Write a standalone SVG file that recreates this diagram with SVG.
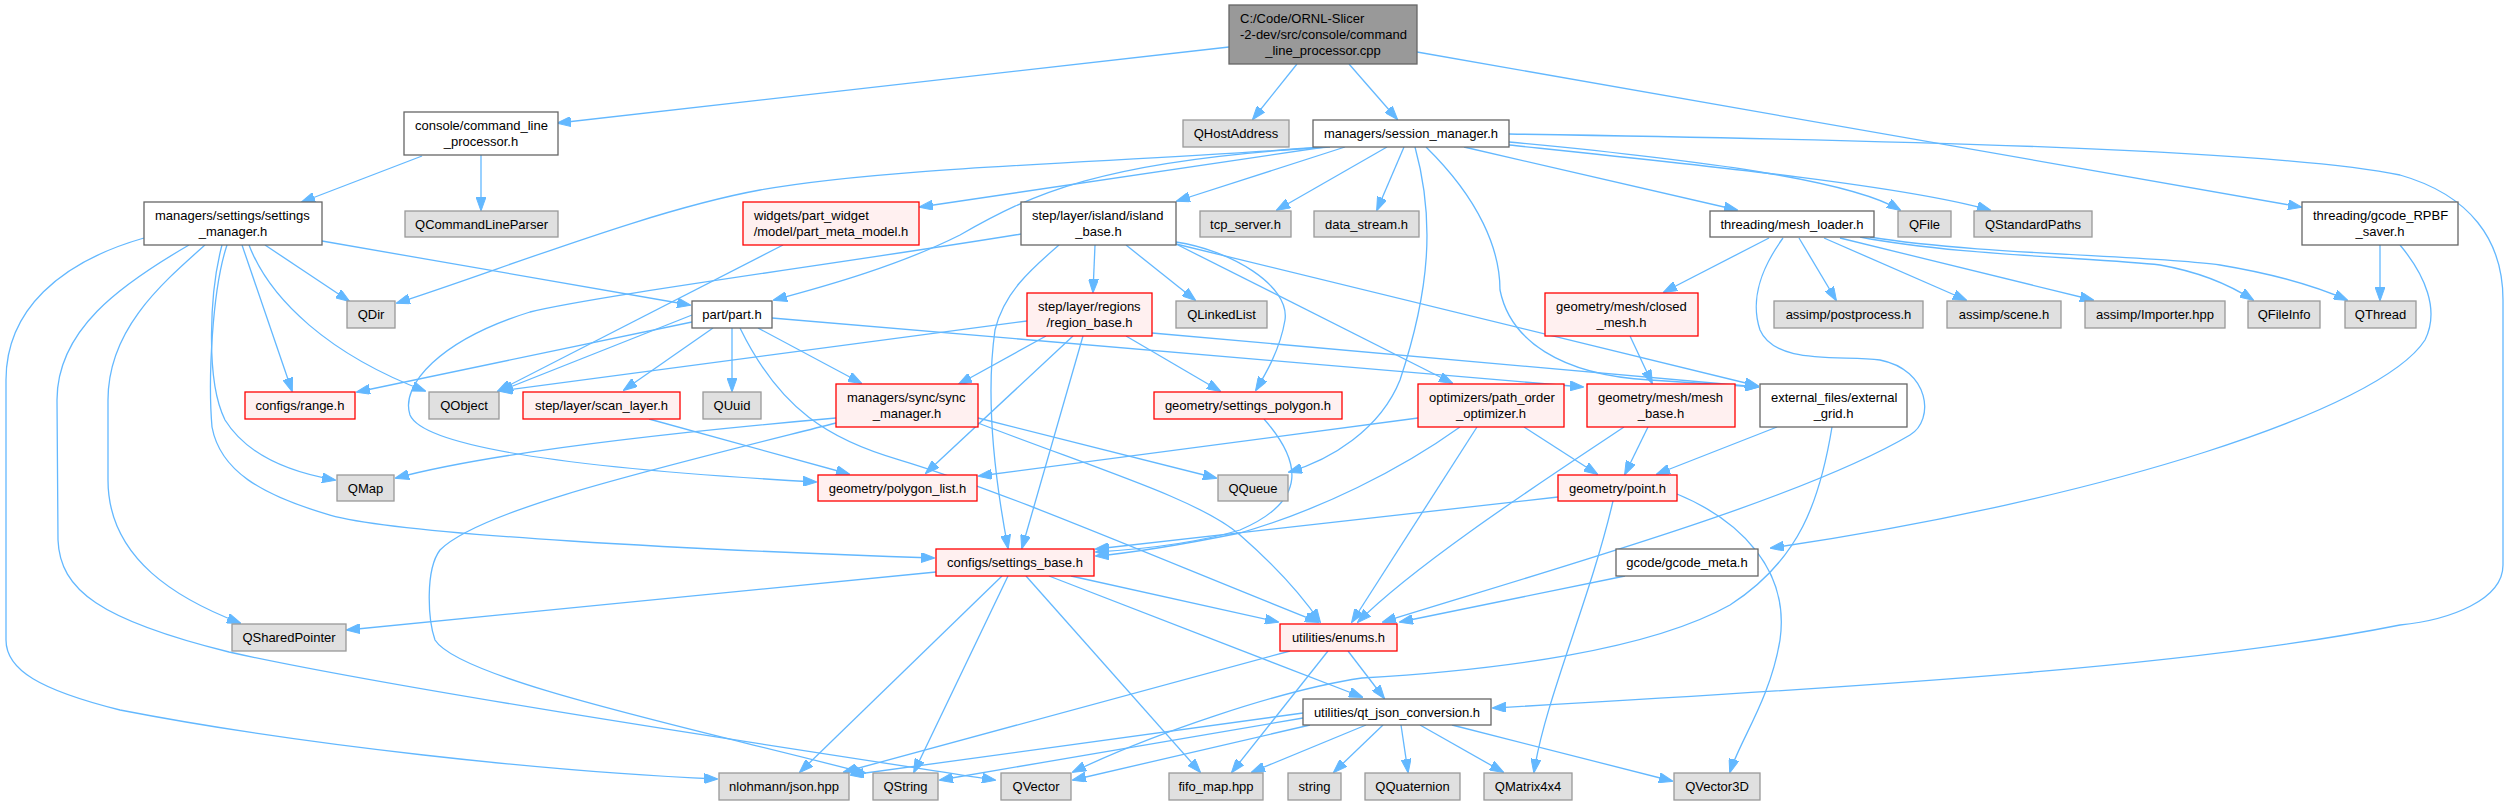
<svg xmlns="http://www.w3.org/2000/svg" width="2509" height="805" viewBox="0 0 2509 805">
<style>
.e{fill:none;stroke:#63b8ff;stroke-width:1.3;marker-end:url(#a)}
rect{stroke-width:1.3}
.w{fill:#ffffff;stroke:#666666}
.r{fill:#fff0f0;stroke:#ff0000}
.g{fill:#e0e0e0;stroke:#999999}
.m{fill:#999999;stroke:#666666}
text{font-family:"Liberation Sans",Arial,sans-serif;font-size:13px;fill:#000000}
.c{text-anchor:middle}
</style>
<defs>
<marker id="a" markerWidth="14" markerHeight="10" refX="13" refY="5" orient="auto" markerUnits="userSpaceOnUse"><path d="M0,0 L14,5 L0,10 z" fill="#63b8ff" stroke="#63b8ff"/></marker>
</defs>
<rect width="2509" height="805" fill="#ffffff"/>
<g id="edges">
<path class="e" d="M1229,47 L558,123"/>
<path class="e" d="M1297,64 L1253,119"/>
<path class="e" d="M1349,64 L1397,119"/>
<path class="e" d="M1417,52 L2301,207"/>
<path class="e" d="M481,155 L481,210"/>
<path class="e" d="M422,156 L302,202"/>
<path class="e" d="M322,241 L690,305"/>
<path class="e" d="M265,245 L349,301"/>
<path class="e" d="M249,245 C270,300 330,355 425,391"/>
<path class="e" d="M242,245 L292,391"/>
<path class="e" d="M222,245 C210,290 205,380 225,420 C250,460 300,474 335,480"/>
<path class="e" d="M227,245 C212,290 208,380 212,427 C220,470 260,495 330,515 C400,535 700,550 934,558"/>
<path class="e" d="M205,245 C160,285 108,330 108,400 L108,480 C108,560 180,600 240,623"/>
<path class="e" d="M144,238 C60,262 6,310 6,380 L6,640 C6,670 40,690 120,710 C300,745 550,772 717,779"/>
<path class="e" d="M189,245 C120,285 57,330 57,400 L58,540 C60,590 100,620 229,652 C400,690 800,750 995,780"/>
<path class="e" d="M1325,147 L920,207"/>
<path class="e" d="M1345,147 L1177,201"/>
<path class="e" d="M1387,147 L1277,210"/>
<path class="e" d="M1404,147 L1377,210"/>
<path class="e" d="M1464,147 L1737,210"/>
<path class="e" d="M1509,142 C1700,160 1850,180 1900,210"/>
<path class="e" d="M1509,145 C1700,165 1900,185 1990,210"/>
<path class="e" d="M1320,147 C1150,162 900,165 760,190 C650,210 500,270 397,303"/>
<path class="e" d="M1330,147 C1100,160 1030,195 960,235 C900,265 830,285 774,300"/>
<path class="e" d="M1415,147 C1435,220 1430,290 1400,380 C1380,430 1330,460 1289,472"/>
<path class="e" d="M1426,147 C1480,200 1500,250 1500,290 C1510,340 1560,375 1650,380 C1700,383 1730,385 1758,387"/>
<path class="e" d="M1509,134 C1900,140 2280,150 2400,175 C2470,195 2503,240 2503,300 L2503,565 C2503,600 2450,620 2400,625 C2200,665 1900,685 1493,708"/>
<path class="e" d="M1095,245 L1093,292"/>
<path class="e" d="M1126,245 L1195,300"/>
<path class="e" d="M1059,245 C1030,270 1004,293 995,330 C985,400 995,480 1008,548"/>
<path class="e" d="M1021,234 C850,262 600,295 530,312 C440,340 400,385 410,415 C425,450 600,470 816,482"/>
<path class="e" d="M1176,242 C1230,250 1290,285 1285,320 C1280,350 1265,375 1256,390"/>
<path class="e" d="M1176,244 L1452,383"/>
<path class="e" d="M1176,244 L1758,386"/>
<path class="e" d="M692,322 L357,392"/>
<path class="e" d="M692,315 L500,391"/>
<path class="e" d="M713,328 L624,390"/>
<path class="e" d="M732,328 L732,391"/>
<path class="e" d="M758,328 L861,383"/>
<path class="e" d="M740,328 C780,410 830,440 900,460 C1000,490 1150,555 1318,622"/>
<path class="e" d="M772,318 L1583,387"/>
<path class="e" d="M783,245 L498,391"/>
<path class="e" d="M1027,321 L500,391"/>
<path class="e" d="M1046,336 L959,384"/>
<path class="e" d="M1073,336 L926,473"/>
<path class="e" d="M1083,336 L1022,548"/>
<path class="e" d="M1126,336 L1220,391"/>
<path class="e" d="M1152,333 L1758,387"/>
<path class="e" d="M649,419 L849,474"/>
<path class="e" d="M836,418 C700,430 500,450 396,478"/>
<path class="e" d="M836,423 C650,470 480,510 440,550 C425,570 428,620 435,640 C460,680 700,730 865,773"/>
<path class="e" d="M978,418 L1216,478"/>
<path class="e" d="M978,423 C1100,470 1200,500 1240,535 C1280,570 1305,600 1320,622"/>
<path class="e" d="M1264,419 C1300,460 1310,500 1240,530 C1190,545 1130,550 1096,552"/>
<path class="e" d="M1418,418 L979,476"/>
<path class="e" d="M1460,427 C1400,470 1320,510 1240,533 C1180,545 1130,553 1096,556"/>
<path class="e" d="M1477,427 L1352,622"/>
<path class="e" d="M1524,427 L1597,474"/>
<path class="e" d="M1648,427 L1625,474"/>
<path class="e" d="M1624,427 C1560,470 1420,560 1358,622"/>
<path class="e" d="M1630,336 L1652,383"/>
<path class="e" d="M1777,427 L1657,474"/>
<path class="e" d="M1832,427 C1820,500 1800,560 1730,605 C1650,650 1500,670 1362,678 C1280,690 1150,735 1073,772"/>
<path class="e" d="M1558,497 L1096,549"/>
<path class="e" d="M1613,501 C1590,600 1545,700 1534,772"/>
<path class="e" d="M1677,494 C1740,520 1790,570 1780,640 C1770,700 1740,740 1730,772"/>
<path class="e" d="M936,572 L347,630"/>
<path class="e" d="M1002,576 L800,772"/>
<path class="e" d="M1008,576 L914,772"/>
<path class="e" d="M1026,576 L1200,772"/>
<path class="e" d="M1049,576 L1362,697"/>
<path class="e" d="M1071,576 L1278,622"/>
<path class="e" d="M1625,576 L1400,622"/>
<path class="e" d="M1783,238 C1760,270 1750,300 1760,330 C1775,365 1840,355 1880,360 C1930,370 1935,420 1910,435 C1800,500 1550,570 1383,622"/>
<path class="e" d="M1769,238 L1664,292"/>
<path class="e" d="M1799,238 L1836,300"/>
<path class="e" d="M1824,238 L1966,300"/>
<path class="e" d="M1840,238 L2093,300"/>
<path class="e" d="M1860,237 C1950,255 2100,258 2160,265 C2200,272 2230,285 2253,300"/>
<path class="e" d="M1870,237 C1980,255 2150,255 2220,265 C2280,275 2320,288 2347,300"/>
<path class="e" d="M2380,245 L2380,300"/>
<path class="e" d="M2400,245 C2425,275 2440,310 2425,340 C2380,410 2100,500 1771,548"/>
<path class="e" d="M1303,713 L851,775"/>
<path class="e" d="M1303,718 L940,780"/>
<path class="e" d="M1310,725 L1073,780"/>
<path class="e" d="M1366,725 L1252,772"/>
<path class="e" d="M1383,725 L1334,772"/>
<path class="e" d="M1401,725 L1408,772"/>
<path class="e" d="M1420,725 L1503,772"/>
<path class="e" d="M1452,725 L1672,781"/>
<path class="e" d="M1348,651 L1384,698"/>
<path class="e" d="M1328,651 L1232,772"/>
<path class="e" d="M1290,651 L844,772"/>
</g>
<g id="n0"><rect class="m" x="1229" y="5" width="188" height="59"/><text x="1240" y="22.5">C:/Code/ORNL-Slicer</text><text x="1240" y="38.5">-2-dev/src/console/command</text><text class="c" x="1323" y="55">_line_processor.cpp</text></g>
<g id="n1"><rect class="w" x="404" y="112" width="154" height="43"/><text x="415" y="130">console/command_line</text><text class="c" x="481" y="146">_processor.h</text></g>
<g id="n2"><rect class="w" x="144" y="202" width="178" height="43"/><text x="155" y="220">managers/settings/settings</text><text class="c" x="233" y="236">_manager.h</text></g>
<g id="n3"><rect class="g" x="405" y="211" width="153" height="26"/><text class="c" x="481.5" y="228.5">QCommandLineParser</text></g>
<g id="n4"><rect class="g" x="1183" y="120" width="106" height="27"/><text class="c" x="1236" y="138">QHostAddress</text></g>
<g id="n5"><rect class="w" x="1313" y="120" width="196" height="27"/><text class="c" x="1411" y="138">managers/session_manager.h</text></g>
<g id="n6"><rect class="r" x="743" y="202" width="176" height="43"/><text x="754" y="220">widgets/part_widget</text><text class="c" x="831" y="236">/model/part_meta_model.h</text></g>
<g id="n7"><rect class="w" x="1021" y="202" width="155" height="43"/><text x="1032" y="220">step/layer/island/island</text><text class="c" x="1098.5" y="236">_base.h</text></g>
<g id="n8"><rect class="g" x="1200" y="211" width="91" height="26"/><text class="c" x="1245.5" y="228.5">tcp_server.h</text></g>
<g id="n9"><rect class="g" x="1314" y="211" width="105" height="26"/><text class="c" x="1366.5" y="228.5">data_stream.h</text></g>
<g id="n10"><rect class="w" x="1710" y="211" width="164" height="26"/><text class="c" x="1792" y="228.5">threading/mesh_loader.h</text></g>
<g id="n11"><rect class="g" x="1898" y="211" width="53" height="26"/><text class="c" x="1924.5" y="228.5">QFile</text></g>
<g id="n12"><rect class="g" x="1974" y="211" width="118" height="26"/><text class="c" x="2033" y="228.5">QStandardPaths</text></g>
<g id="n13"><rect class="w" x="2302" y="202" width="156" height="43"/><text x="2313" y="220">threading/gcode_RPBF</text><text class="c" x="2380" y="236">_saver.h</text></g>
<g id="n14"><rect class="g" x="347" y="301" width="48" height="27"/><text class="c" x="371" y="319">QDir</text></g>
<g id="n15"><rect class="w" x="692" y="301" width="80" height="27"/><text class="c" x="732" y="319">part/part.h</text></g>
<g id="n16"><rect class="r" x="1027" y="293" width="125" height="43"/><text x="1038" y="311">step/layer/regions</text><text class="c" x="1089.5" y="327">/region_base.h</text></g>
<g id="n17"><rect class="g" x="1176" y="301" width="91" height="27"/><text class="c" x="1221.5" y="319">QLinkedList</text></g>
<g id="n18"><rect class="r" x="1545" y="293" width="153" height="43"/><text x="1556" y="311">geometry/mesh/closed</text><text class="c" x="1621.5" y="327">_mesh.h</text></g>
<g id="n19"><rect class="g" x="1774" y="301" width="149" height="27"/><text class="c" x="1848.5" y="319">assimp/postprocess.h</text></g>
<g id="n20"><rect class="g" x="1947" y="301" width="114" height="27"/><text class="c" x="2004" y="319">assimp/scene.h</text></g>
<g id="n21"><rect class="g" x="2085" y="301" width="140" height="27"/><text class="c" x="2155" y="319">assimp/Importer.hpp</text></g>
<g id="n22"><rect class="g" x="2248" y="301" width="72" height="27"/><text class="c" x="2284" y="319">QFileInfo</text></g>
<g id="n23"><rect class="g" x="2345" y="301" width="71" height="27"/><text class="c" x="2380.5" y="319">QThread</text></g>
<g id="n24"><rect class="r" x="245" y="392" width="110" height="27"/><text class="c" x="300" y="410">configs/range.h</text></g>
<g id="n25"><rect class="g" x="429" y="392" width="70" height="27"/><text class="c" x="464" y="410">QObject</text></g>
<g id="n26"><rect class="r" x="523" y="392" width="157" height="27"/><text class="c" x="601.5" y="410">step/layer/scan_layer.h</text></g>
<g id="n27"><rect class="g" x="703" y="392" width="58" height="27"/><text class="c" x="732" y="410">QUuid</text></g>
<g id="n28"><rect class="r" x="836" y="384" width="142" height="43"/><text x="847" y="402">managers/sync/sync</text><text class="c" x="907" y="418">_manager.h</text></g>
<g id="n29"><rect class="r" x="1154" y="392" width="188" height="27"/><text class="c" x="1248" y="410">geometry/settings_polygon.h</text></g>
<g id="n30"><rect class="r" x="1418" y="384" width="146" height="43"/><text x="1429" y="402">optimizers/path_order</text><text class="c" x="1491" y="418">_optimizer.h</text></g>
<g id="n31"><rect class="r" x="1587" y="384" width="148" height="43"/><text x="1598" y="402">geometry/mesh/mesh</text><text class="c" x="1661" y="418">_base.h</text></g>
<g id="n32"><rect class="w" x="1760" y="384" width="147" height="43"/><text x="1771" y="402">external_files/external</text><text class="c" x="1833.5" y="418">_grid.h</text></g>
<g id="n33"><rect class="g" x="337" y="475" width="57" height="26"/><text class="c" x="365.5" y="492.5">QMap</text></g>
<g id="n34"><rect class="r" x="818" y="475" width="159" height="26"/><text class="c" x="897.5" y="492.5">geometry/polygon_list.h</text></g>
<g id="n35"><rect class="g" x="1218" y="475" width="70" height="26"/><text class="c" x="1253" y="492.5">QQueue</text></g>
<g id="n36"><rect class="r" x="1558" y="475" width="119" height="26"/><text class="c" x="1617.5" y="492.5">geometry/point.h</text></g>
<g id="n37"><rect class="r" x="936" y="549" width="158" height="27"/><text class="c" x="1015" y="567">configs/settings_base.h</text></g>
<g id="n38"><rect class="w" x="1616" y="549" width="142" height="27"/><text class="c" x="1687" y="567">gcode/gcode_meta.h</text></g>
<g id="n39"><rect class="g" x="232" y="624" width="114" height="27"/><text class="c" x="289" y="642">QSharedPointer</text></g>
<g id="n40"><rect class="r" x="1280" y="624" width="117" height="27"/><text class="c" x="1338.5" y="642">utilities/enums.h</text></g>
<g id="n41"><rect class="w" x="1303" y="699" width="188" height="26"/><text class="c" x="1397" y="716.5">utilities/qt_json_conversion.h</text></g>
<g id="n42"><rect class="g" x="719" y="773" width="130" height="27"/><text class="c" x="784" y="791">nlohmann/json.hpp</text></g>
<g id="n43"><rect class="g" x="873" y="773" width="65" height="27"/><text class="c" x="905.5" y="791">QString</text></g>
<g id="n44"><rect class="g" x="1001" y="773" width="70" height="27"/><text class="c" x="1036" y="791">QVector</text></g>
<g id="n45"><rect class="g" x="1169" y="773" width="94" height="27"/><text class="c" x="1216" y="791">fifo_map.hpp</text></g>
<g id="n46"><rect class="g" x="1288" y="773" width="53" height="27"/><text class="c" x="1314.5" y="791">string</text></g>
<g id="n47"><rect class="g" x="1365" y="773" width="95" height="27"/><text class="c" x="1412.5" y="791">QQuaternion</text></g>
<g id="n48"><rect class="g" x="1484" y="773" width="88" height="27"/><text class="c" x="1528" y="791">QMatrix4x4</text></g>
<g id="n49"><rect class="g" x="1674" y="773" width="86" height="27"/><text class="c" x="1717" y="791">QVector3D</text></g>
</svg>
